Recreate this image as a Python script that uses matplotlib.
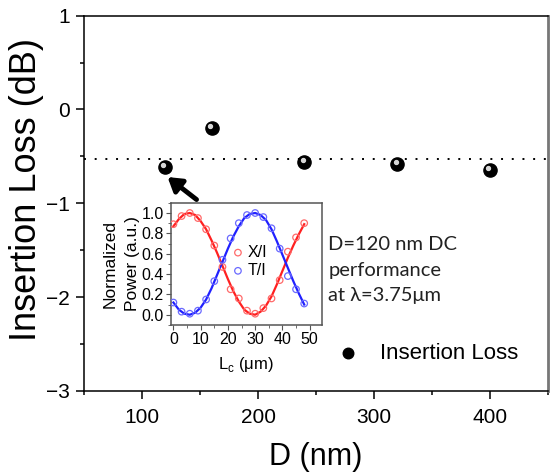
import matplotlib

matplotlib.use("Agg")
import matplotlib.pyplot as plt  # noqa: E402
import matplotlib.transforms as mtransforms  # noqa: E402
from matplotlib.ticker import MultipleLocator  # noqa: E402

plt.rcParams["font.family"] = ["Liberation Sans", "DejaVu Sans"]

# main panel: insertion loss vs gap D
d_nm = [120, 160, 240, 320, 400]
loss_db = [-0.61, -0.20, -0.56, -0.58, -0.64]
loss_mean = -0.525

# inset: measured points and fits vs coupling length
lc_pts = [0, 3, 6, 9, 12, 15, 18, 21, 24, 27, 30, 33, 36, 39, 42, 45, 48]
x_pts = [0.89, 0.97, 1.00, 0.95, 0.84, 0.68, 0.47, 0.25, 0.16, 0.04, 0.01, 0.065, 0.16, 0.34, 0.62, 0.76, 0.90]
t_pts = [0.12, 0.03, 0.01, 0.04, 0.15, 0.33, 0.54, 0.75, 0.90, 0.98, 1.00, 0.96, 0.85, 0.65, 0.38, 0.25, 0.11]

lc_fit = [0, 2, 4, 6, 8, 10, 12, 14, 16, 18, 20, 22, 24, 26, 28, 30, 32, 34, 36, 38, 40, 42, 44, 46, 48]
x_fit = [0.87, 0.94, 0.99, 1.00, 0.98, 0.92, 0.84, 0.73, 0.61, 0.48, 0.35, 0.23, 0.13, 0.05, 0.01,
         0.00, 0.03, 0.09, 0.18, 0.30, 0.43, 0.56, 0.68, 0.79, 0.89]
t_fit = [0.12, 0.05, 0.01, 0.00, 0.02, 0.07, 0.15, 0.26, 0.39, 0.52, 0.65, 0.77, 0.87, 0.95, 0.99,
         1.00, 0.98, 0.93, 0.84, 0.72, 0.59, 0.46, 0.33, 0.21, 0.10]

fig = plt.figure(figsize=(5.56, 4.75), dpi=100)
ax = fig.add_axes([0.151, 0.177, 0.835, 0.790])

ax.axhline(loss_mean, color="black", lw=1.4, ls=(0, (1, 4.5)), zorder=1)
balls = ax.scatter(d_nm, loss_db, s=90, color="black", zorder=3)
# little highlight so the markers look like shiny balls
shift = mtransforms.ScaledTranslation(-1.8 / 100, 1.8 / 100, fig.dpi_scale_trans)
ax.scatter(d_nm, loss_db, s=8, color="#d8d8d8", zorder=4, transform=ax.transData + shift)

ax.set_xlim(50, 450)
ax.set_ylim(-3, 1)
ax.xaxis.set_major_locator(MultipleLocator(100))
ax.xaxis.set_minor_locator(MultipleLocator(50))
ax.yaxis.set_major_locator(MultipleLocator(1))
ax.yaxis.set_minor_locator(MultipleLocator(0.5))
ax.tick_params(which="major", direction="out", length=6, width=1.1, labelsize=15)
ax.tick_params(axis="x", which="major", pad=6)
ax.tick_params(axis="y", which="major", pad=4)
ax.tick_params(which="minor", direction="out", length=3, width=1.1)
ax.set_xlabel("D (nm)", fontsize=22, labelpad=11)
ax.set_ylabel("Insertion Loss (dB)", fontsize=26)
ax.yaxis.set_label_coords(-0.085, 0.538)
for sp in ax.spines.values():
    sp.set_linewidth(1.1)
ax.spines["right"].set_color("#777777")
ax.spines["right"].set_linewidth(2)

ax.legend([balls], ["Insertion Loss"], loc="center left", bbox_to_anchor=(0.545, 0.1),
          frameon=False, fontsize=16, handlelength=1.0, handletextpad=0.95,
          borderpad=0, borderaxespad=0, markerscale=0.8)

ax.annotate("", xy=(122, -0.72), xytext=(147, -0.96),
            arrowprops=dict(arrowstyle="-|>,head_width=0.5,head_length=0.8",
                            color="black", lw=3.5, shrinkA=0, shrinkB=0))

ax.text(0.526, 0.322, "D=120 nm DC\nperformance\nat \u03bb=3.75\u03bcm", transform=ax.transAxes,
        fontsize=14.5, family=["Lato", "DejaVu Sans"], color="#222222", linespacing=1.6,
        ha="left", va="center")

# inset
ins = fig.add_axes([0.307, 0.316, 0.272, 0.257])
ins.plot(lc_fit, x_fit, color="#ff2020", lw=1.6)
ins.plot(lc_fit, t_fit, color="#2020ff", lw=1.6)
ins.scatter(lc_pts, x_pts, s=22, facecolors="none", edgecolors="#ff6a6a", lw=0.9, label="X/I", zorder=3)
ins.scatter(lc_pts, t_pts, s=22, facecolors="none", edgecolors="#6a6aff", lw=0.9, label="T/I", zorder=3)
ins.set_xlim(-1, 54.5)
ins.set_ylim(-0.1, 1.1)
ins.xaxis.set_major_locator(MultipleLocator(10))
ins.xaxis.set_minor_locator(MultipleLocator(5))
ins.yaxis.set_major_locator(MultipleLocator(0.2))
ins.yaxis.set_minor_locator(MultipleLocator(0.1))
ins.tick_params(which="major", direction="out", length=3.5, labelsize=11.5, pad=1.5, color="#555555")
ins.tick_params(which="minor", direction="out", length=2, color="#555555")
for sp in ins.spines.values():
    sp.set_color("#555555")
    sp.set_linewidth(1.1)
ins.set_ylabel("Normalized\nPower (a.u.)", fontsize=12.5, labelpad=1, linespacing=1.6)
ins.set_xlabel("L$_\\mathregular{c}$ (\u03bcm)", fontsize=12, labelpad=6)
ins.legend(loc="upper left", bbox_to_anchor=(0.413, 0.656), frameon=False, fontsize=11.5,
           handlelength=0.6, handletextpad=0.3, labelspacing=0.2,
           borderpad=0, borderaxespad=0)

fig.savefig("out.png", dpi=100)
